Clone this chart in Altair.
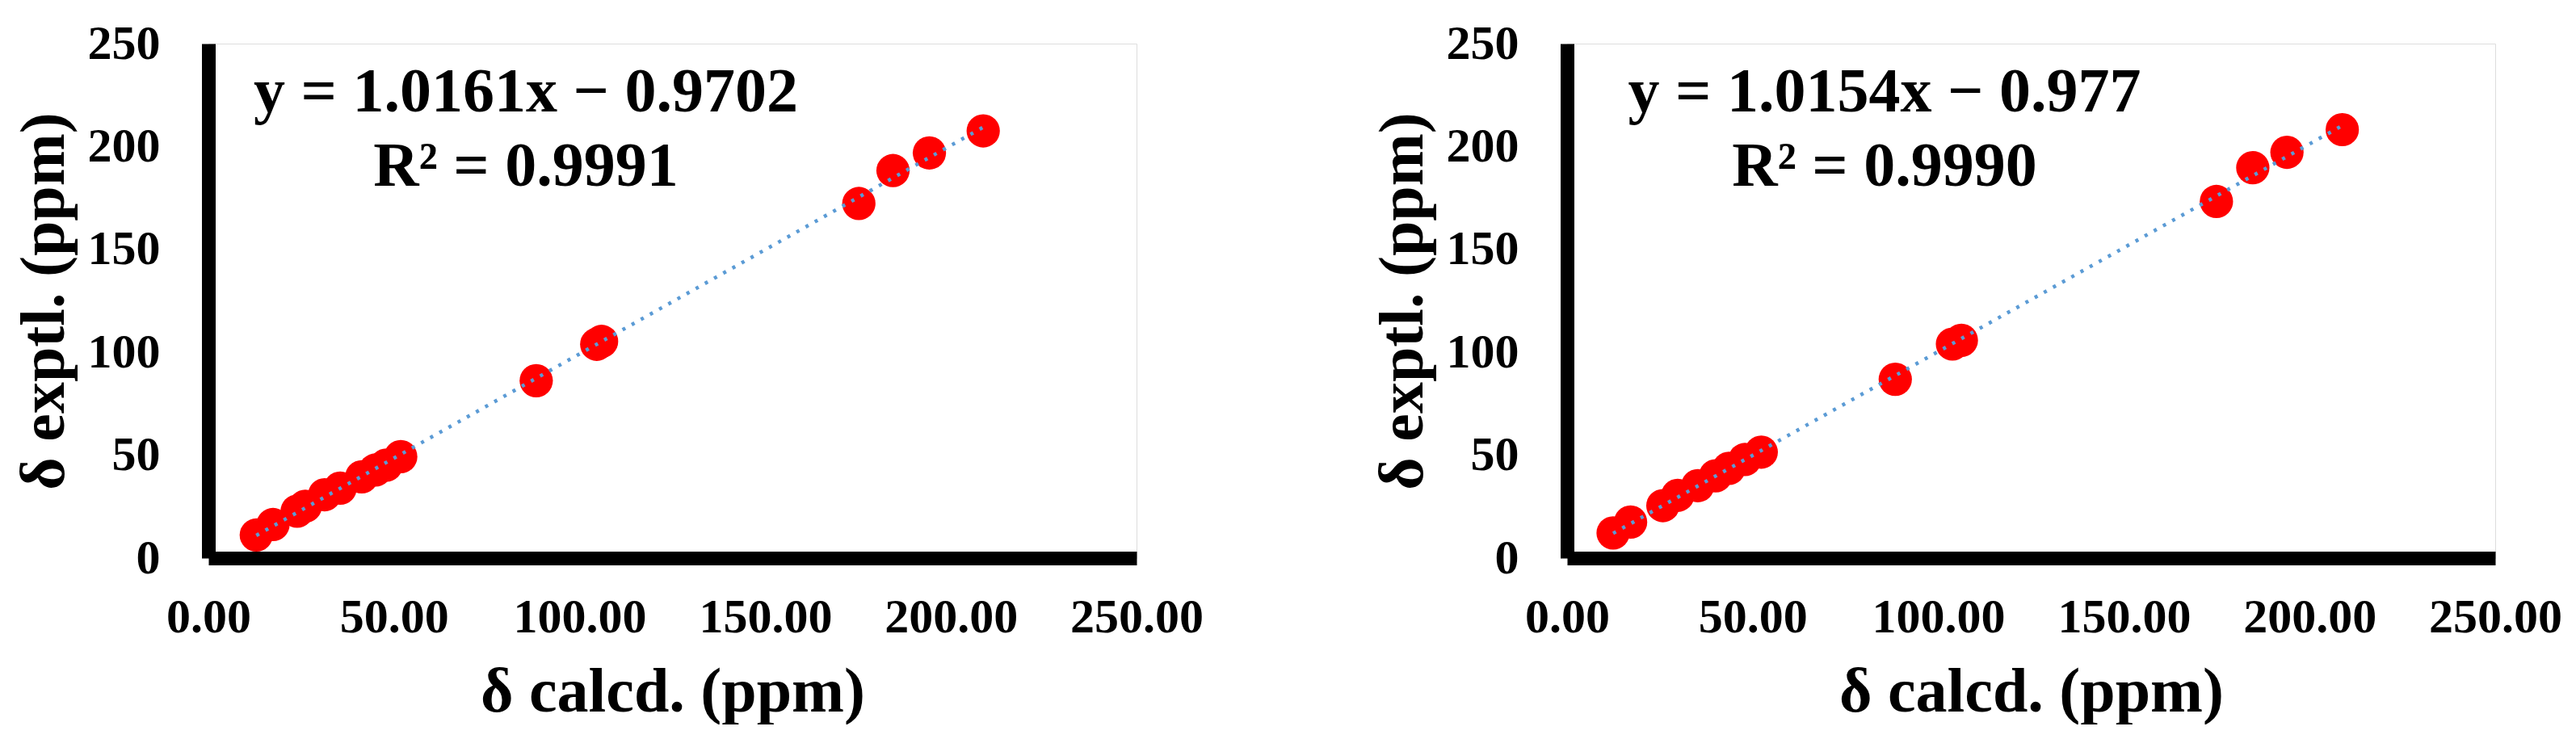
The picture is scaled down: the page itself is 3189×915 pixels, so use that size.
import altair as alt
import pandas as pd

# ---- data ----
left_calc = [12.9, 17.4, 23.9, 26.1, 31.3, 35.5, 41.3, 45.0, 47.9, 51.8,
             88.3, 104.6, 105.9, 175.2, 184.4, 194.2, 208.7]
left_expt = [11.2, 16.3, 22.8, 25.2, 30.8, 34.0, 39.5, 42.8, 45.2, 49.3,
             86.2, 103.9, 105.3, 172.3, 188.3, 196.9, 207.6]
right_calc = [12.4, 17.1, 25.8, 29.8, 35.2, 40.0, 43.6, 47.9, 52.3,
              88.4, 103.8, 106.2, 174.9, 184.7, 193.9, 208.8]
right_expt = [12.2, 17.5, 25.5, 30.5, 35.2, 40.0, 43.6, 47.9, 51.5,
              86.9, 104.0, 105.8, 173.3, 189.7, 197.2, 208.2]

left_eq = ["y = 1.0161x \u2212 0.9702", "R\u00b2 = 0.9991"]
right_eq = ["y = 1.0154x \u2212 0.977", "R\u00b2 = 0.9990"]

tick_values = [0, 50, 100, 150, 200, 250]

FONT = "Liberation Serif"
W, H = 1149, 637


def panel(calc, expt, eq_lines):
    df = pd.DataFrame({"calc": calc, "expt": expt})
    xs = alt.Scale(domain=[0, 250], nice=False)
    ys = alt.Scale(domain=[0, 250], nice=False)
    xaxis = alt.Axis(values=tick_values, format=".2f", title="\u03b4 calcd. (ppm)",
                     labelFontSize=60, labelFont=FONT, labelFontWeight="bold",
                     labelColor="black", labelPadding=44, ticks=False, tickSize=0,
                     labelOverlap=False, labelFlush=False,
                     grid=False, domainWidth=17, domainColor="black",
                     titleFont=FONT, titleFontSize=78, titleFontWeight="bold",
                     titleColor="black", titlePadding=24)
    yaxis = alt.Axis(values=tick_values, format="d", title="\u03b4 exptl. (ppm)",
                     labelFontSize=60, labelFont=FONT, labelFontWeight="bold",
                     labelColor="black", labelPadding=60, ticks=False, tickSize=0,
                     labelOverlap=False, labelFlush=False,
                     grid=False, domainWidth=17, domainColor="black",
                     titleFont=FONT, titleFontSize=78, titleFontWeight="bold",
                     titleColor="black", titlePadding=14)
    base = alt.Chart(df)
    pts = base.mark_circle(size=1700, color="#FF0000", opacity=1).encode(
        x=alt.X("calc:Q", scale=xs, axis=xaxis),
        y=alt.Y("expt:Q", scale=ys, axis=yaxis),
    )
    trend = base.transform_regression("calc", "expt", method="linear").mark_line(
        color="#5B9BD5", strokeWidth=4.5, strokeDash=[4, 9]
    ).encode(x=alt.X("calc:Q", scale=xs), y=alt.Y("expt:Q", scale=ys))
    ann = pd.DataFrame({"x": [85.5, 85.5], "y": [226.0, 190.0], "t": eq_lines})
    txt = alt.Chart(ann).mark_text(font=FONT, fontSize=78, fontWeight="bold",
                                   color="black", align="center",
                                   baseline="middle").encode(
        x=alt.X("x:Q", scale=xs), y=alt.Y("y:Q", scale=ys), text="t:N")
    return alt.layer(pts, trend, txt).properties(width=W, height=H)


chart = alt.hconcat(
    panel(left_calc, left_expt, left_eq),
    panel(right_calc, right_expt, right_eq),
    spacing=207,
).properties(
    padding={"left": 7, "top": 15, "right": 0, "bottom": 0}
).configure_view(strokeWidth=0, stroke="transparent").configure(background="white")

chart.save("out.html", embed_options={"renderer": "svg", "actions": False})
